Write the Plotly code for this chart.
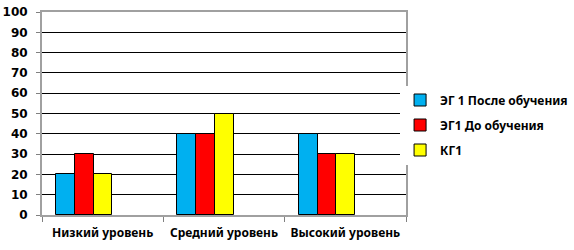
import plotly.graph_objects as go

categories = ["Низкий уровень", "Средний уровень", "Высокий уровень"]
series_names = ["ЭГ 1 После обучения", "ЭГ1 До обучения", "КГ1"]
eg1_after = [20, 40, 40]
eg1_before = [30, 40, 30]
kg1 = [20, 50, 30]
colors = ["#00B0F0", "#FF0000", "#FFFF00"]
y_ticks = list(range(0, 101, 10))

bar_w = 0.155
offsets = [-0.384, -0.229, -0.074]

fig = go.Figure()
for name, vals, col, off in zip(series_names, [eg1_after, eg1_before, kg1], colors, offsets):
    fig.add_trace(go.Bar(
        x=categories, y=vals, name=name, legendgroup=name,
        marker=dict(color=col, line=dict(color="#000000", width=1)),
        width=bar_w, offset=off,
    ))

fig.update_layout(
    width=574, height=250,
    margin=dict(l=42, r=168, t=12, b=35, autoexpand=False),
    paper_bgcolor="white", plot_bgcolor="white",
    showlegend=True,
    legend=dict(xref="container", yref="container", x=0.697, y=0.5,
                xanchor="left", yanchor="middle",
                font=dict(family="Noto Sans", size=12, color="#000", weight="bold"),
                tracegroupgap=6, itemwidth=30),
    bargap=0,
)
fig.update_xaxes(
    tickson="boundaries", ticks="outside", ticklen=5, tickcolor="#808080",
    showline=True, linecolor="#A0A0A0", linewidth=2, mirror=True,
    tickfont=dict(family="Noto Sans", size=12, color="#000", weight="bold"),
    ticklabelstandoff=6,
    showgrid=False, range=[-0.5, 2.5],
)
fig.update_yaxes(
    range=[0, 100], tickvals=y_ticks, ticks="outside", ticklen=4, tickcolor="#808080",
    showline=True, linecolor="#A0A0A0", linewidth=2, mirror=True,
    gridcolor="#000000", gridwidth=1, zeroline=False,
    tickfont=dict(family="DejaVu Sans", size=12, color="#000", weight="bold"),
    ticklabelstandoff=6,
)

fig.write_html("out.html")
